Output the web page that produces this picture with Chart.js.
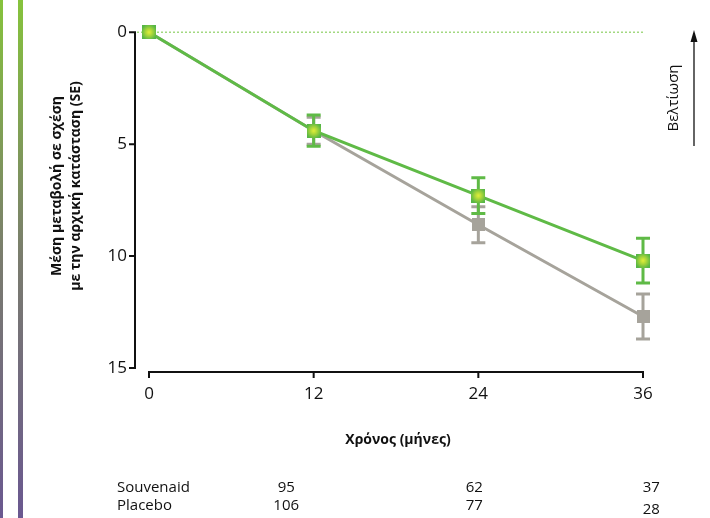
<!DOCTYPE html>
<html>
<head>
<meta charset="utf-8">
<script src="https://cdn.jsdelivr.net/npm/chart.js@4"></script>
<style>
  html, body { margin: 0; padding: 0; background: #fff; }
  #wrap { width: 710px; height: 518px; }
</style>
</head>
<body>
<div id="wrap"><canvas id="chart0" width="710" height="518"></canvas></div>
<script>
// data
let months = [0, 12, 24, 36];
let souvenaid = [0, 4.4, 7.3, 10.2];
let souvenaidSE = [0, 0.7, 0.8, 1.0];
let placebo = [0, 4.4, 8.6, 12.7];
let placeboSE = [0, 0.6, 0.8, 1.0];
let yTicks = [0, 5, 10, 15];
let xTicks = [0, 12, 24, 36];
let rowLabels = ['Souvenaid', 'Placebo'];
let nSouvenaid = [95, 62, 37];
let nPlacebo = [106, 77, 28];

let fontFamily = "'Open Sans', 'DejaVu Sans', sans-serif";
let green = '#5fba46';
let grey = '#a6a39b';

// marker images
function greenMarker() {
    let c = document.createElement('canvas');
    c.width = 14; c.height = 14;
    let g = c.getContext('2d');
    let grad = g.createRadialGradient(7, 7, 0, 7, 7, 8);
    grad.addColorStop(0, '#e4f03a');
    grad.addColorStop(0.45, '#a8d63a');
    grad.addColorStop(1, '#56b646');
    g.fillStyle = grad;
    g.fillRect(0, 0, 14, 14);
    return c;
}
function greyMarker() {
    let c = document.createElement('canvas');
    c.width = 13; c.height = 13;
    let g = c.getContext('2d');
    g.fillStyle = grey;
    g.fillRect(0, 0, 13, 13);
    return c;
}

function toPoints(ys) {
    return months.map((m, i) => ({ x: m, y: ys[i] }));
}

let decorPlugin = {
    id: 'decor',
    beforeDatasetsDraw(chart) {
        let ctx = chart.ctx;
        let xs = chart.scales.x, ys = chart.scales.y;
        ctx.save();

        // left colour strips
        let grad = ctx.createLinearGradient(0, 0, 0, 518);
        grad.addColorStop(0, '#86c33c');
        grad.addColorStop(0.5, '#7a7c6e');
        grad.addColorStop(1, '#6a5890');
        ctx.fillStyle = grad;
        ctx.fillRect(0, 0, 3, 518);
        ctx.fillRect(18, 0, 5, 518);

        // dotted zero line
        ctx.strokeStyle = '#8ccf63';
        ctx.lineWidth = 1.2;
        ctx.setLineDash([2, 2]);
        ctx.beginPath();
        ctx.moveTo(137, ys.getPixelForValue(0));
        ctx.lineTo(645, ys.getPixelForValue(0));
        ctx.stroke();
        ctx.setLineDash([]);

        // y axis line and ticks
        let ax = 135;
        ctx.strokeStyle = '#111';
        ctx.lineWidth = 2;
        ctx.beginPath();
        ctx.moveTo(ax, ys.getPixelForValue(0) - 1);
        ctx.lineTo(ax, ys.getPixelForValue(15) + 1);
        yTicks.forEach(t => {
            let p = ys.getPixelForValue(t);
            ctx.moveTo(ax, p);
            ctx.lineTo(ax - 6, p);
        });
        ctx.stroke();

        // x axis line and ticks
        let ay = 372;
        ctx.beginPath();
        ctx.moveTo(xs.getPixelForValue(0) - 1, ay);
        ctx.lineTo(xs.getPixelForValue(36) + 1, ay);
        xTicks.forEach(t => {
            let p = xs.getPixelForValue(t);
            ctx.moveTo(p, ay);
            ctx.lineTo(p, ay + 6);
        });
        ctx.stroke();

        // error bars
        let series = [[placebo, placeboSE, grey], [souvenaid, souvenaidSE, green]];
        series.forEach(([vals, se, col]) => {
            ctx.strokeStyle = col;
            ctx.lineWidth = 3;
            vals.forEach((v, i) => {
                if (!se[i]) return;
                let px = xs.getPixelForValue(months[i]);
                let top = ys.getPixelForValue(v - se[i]);
                let bot = ys.getPixelForValue(v + se[i]);
                ctx.beginPath();
                ctx.moveTo(px, top);
                ctx.lineTo(px, bot);
                ctx.moveTo(px - 7, top);
                ctx.lineTo(px + 7, top);
                ctx.moveTo(px - 7, bot);
                ctx.lineTo(px + 7, bot);
                ctx.stroke();
            });
        });
        ctx.restore();
    },
    afterDraw(chart) {
        let ctx = chart.ctx;
        let xs = chart.scales.x;
        ctx.save();
        ctx.fillStyle = '#111';

        // y title
        ctx.save();
        ctx.translate(66, 186);
        ctx.rotate(-Math.PI / 2);
        ctx.font = "bold 14px " + fontFamily;
        ctx.textAlign = 'center';
        ctx.textBaseline = 'middle';
        ctx.fillText('Μέση μεταβολή σε σχέση', 0, -9);
        ctx.fillText('με την αρχική κατάσταση (SE)', 0, 10);
        ctx.restore();

        // x title
        ctx.font = "bold 14px " + fontFamily;
        ctx.textAlign = 'center';
        ctx.textBaseline = 'middle';
        ctx.fillText('Χρόνος (μήνες)', 398, 440);

        // improvement label with arrow
        ctx.save();
        ctx.translate(678, 98);
        ctx.rotate(-Math.PI / 2);
        ctx.font = "15px " + fontFamily;
        ctx.textBaseline = 'alphabetic';
        ctx.fillText('Βελτίωση', 0, 0);
        ctx.restore();
        ctx.strokeStyle = '#111';
        ctx.lineWidth = 1.3;
        ctx.beginPath();
        ctx.moveTo(694, 146);
        ctx.lineTo(694, 40);
        ctx.stroke();
        ctx.beginPath();
        ctx.moveTo(694, 30);
        ctx.lineTo(690.5, 42);
        ctx.lineTo(697.5, 42);
        ctx.closePath();
        ctx.fill();

        // numbers at risk
        ctx.textBaseline = 'middle';
        ctx.font = "15px " + fontFamily;
        ctx.textAlign = 'left';
        ctx.fillText(rowLabels[0], 117, 488);
        ctx.fillText(rowLabels[1], 117, 506);
        ctx.textAlign = 'center';
        let cols = [10, 23.7, 36.6];
        nSouvenaid.forEach((n, i) => ctx.fillText(String(n), xs.getPixelForValue(cols[i]), 488));
        nPlacebo.forEach((n, i) => ctx.fillText(String(n), xs.getPixelForValue(cols[i]), i === 2 ? 510 : 506));
        ctx.restore();
    }
};

let chart0 = document.getElementById('chart0');
let currentChart = new Chart(chart0, {
    type: 'line',
    data: {
        datasets: [
            {
                label: 'Souvenaid',
                data: toPoints(souvenaid),
                borderColor: green,
                borderWidth: 3,
                pointStyle: greenMarker(),
                clip: false,
            },
            {
                label: 'Placebo',
                data: toPoints(placebo),
                borderColor: grey,
                borderWidth: 3,
                pointStyle: greyMarker(),
                clip: false,
            }
        ]
    },
    options: {
        responsive: false,
        animation: false,
        layout: {
            padding: { left: 0, top: 32, right: 67, bottom: 0 }
        },
        plugins: {
            legend: { display: false },
            tooltip: { enabled: false }
        },
        scales: {
            x: {
                type: 'linear',
                min: 0,
                max: 36,
                grid: { display: false, drawTicks: false },
                border: { display: false },
                ticks: {
                    stepSize: 12,
                    padding: 16,
                    color: '#111',
                    font: { family: fontFamily, size: 17 }
                },
                afterFit(scale) { scale.height = 150; }
            },
            y: {
                reverse: true,
                min: 0,
                max: 15,
                grid: { display: false, drawTicks: false },
                border: { display: false },
                ticks: {
                    stepSize: 5,
                    padding: 22,
                    color: '#111',
                    font: { family: fontFamily, size: 17 }
                },
                afterFit(scale) { scale.width = 149; }
            }
        }
    },
    plugins: [decorPlugin]
});
</script>
</body>
</html>
